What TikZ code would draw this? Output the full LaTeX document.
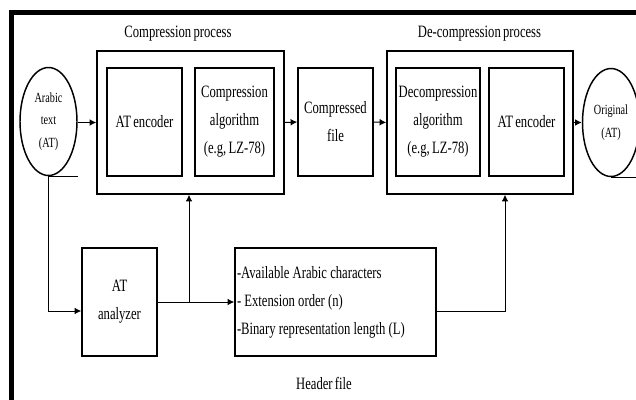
\documentclass[tikz,border=0pt]{standalone}
\usepackage{fontspec}
\setmainfont[FakeStretch=0.73, WordSpace=0.73]{Liberation Serif}
\usepackage{tikz}
\usetikzlibrary{arrows.meta, shapes.geometric, positioning, calc}

\begin{document}
\begin{tikzpicture}[x=0.75pt, y=-0.75pt,
        blk/.style={draw, line width=1.1pt, align=center, inner sep=1pt,
            font=\fontsize{13}{21}\selectfont},
        tape/.style={draw, ellipse, line width=1.1pt, align=center, inner sep=0pt,
            minimum width=42.75pt, minimum height=81pt,
            font=\fontsize{10.5}{17}\selectfont},
        lbl/.style={font=\fontsize{13}{16}\selectfont},
        arr/.style={-{Latex[length=5pt, width=5pt]}, line width=0.75pt},
        ln/.style={line width=0.75pt}]
        \useasboundingbox (0, 0) rectangle (636, 400);

        % Frame
        \draw[line width=3.75pt] (11.5, 400) -- (11.5, 12.5) -- (636, 12.5);

        % Compression process
        \node[blk, minimum width=140.25pt, minimum height=107.25pt] (comp) at (190.5, 122.5) {};
        \node[blk, minimum width=56.25pt, minimum height=81pt] (enc) at (144.5, 122) {AT encoder};
        \node[blk, minimum width=59.25pt, minimum height=81pt] (calg) at (234.5, 122) {Compression\\algorithm\\(e.g, LZ-78)};
        \node[lbl] (complbl) at (178, 34) {Compression process};

        \node[blk, minimum width=56.25pt, minimum height=81pt] (cfile) at (335.5, 122) {Compressed\\file};

        % De-compression process
        \node[blk, minimum width=139.5pt, minimum height=107.25pt] (decomp) at (480, 122.5) {};
        \node[blk, minimum width=63pt, minimum height=81pt] (dalg) at (438, 122) {Decompression\\algorithm\\(e.g, LZ-78)};
        \node[blk, minimum width=56.25pt, minimum height=81pt] (dec) at (526.5, 122) {AT encoder};
        \node[lbl] (decomplbl) at (479.5, 34) {De-compression process};

        % Input and output text
        \node[tape] (arabic) at (48.5, 121.5) {Arabic\\text\\(AT)};
        \node[tape] (orig) at (611, 122.5) {Original\\(AT)};
        \draw[line width=1.1pt] (arabic.south) -- ++(29, 0);
        \draw[line width=1.1pt] (orig.south) -- ++(30, 0);

        % Analyzer and header
        \node[blk, minimum width=56.25pt, minimum height=81pt] (analyzer) at (119.5, 302) {AT\\analyzer};
        \node[blk, align=left, inner xsep=1.5pt, text width=147.75pt, minimum height=81pt] (header) at (335.5, 302)
            {\spaceskip=2.4pt\relax -Available Arabic characters\\- Extension order (n)\\-Binary representation length (L)};
        \node[lbl] (headerlbl) at (324, 383) {Header file};

        % Connectors
        \draw[arr] (arabic.east |- comp.west) -- (comp.west);
        \draw[arr] (comp.east) -- (cfile.west);
        \draw[arr] (cfile.east) -- (decomp.west);
        \draw[arr] (decomp.east) -- (orig.west |- decomp.east);
        \draw[arr] (arabic.south) |- ([yshift=-6.75pt]analyzer.west);
        \draw[arr] (analyzer.east) -- (header.west);
        \coordinate (branch) at (189, 302);
        \draw[arr] (branch) -- (branch |- comp.south);
        \draw[arr] ([yshift=-6.75pt]header.east) -| ([xshift=18.75pt]decomp.south);

    \end{tikzpicture}
\end{document}
